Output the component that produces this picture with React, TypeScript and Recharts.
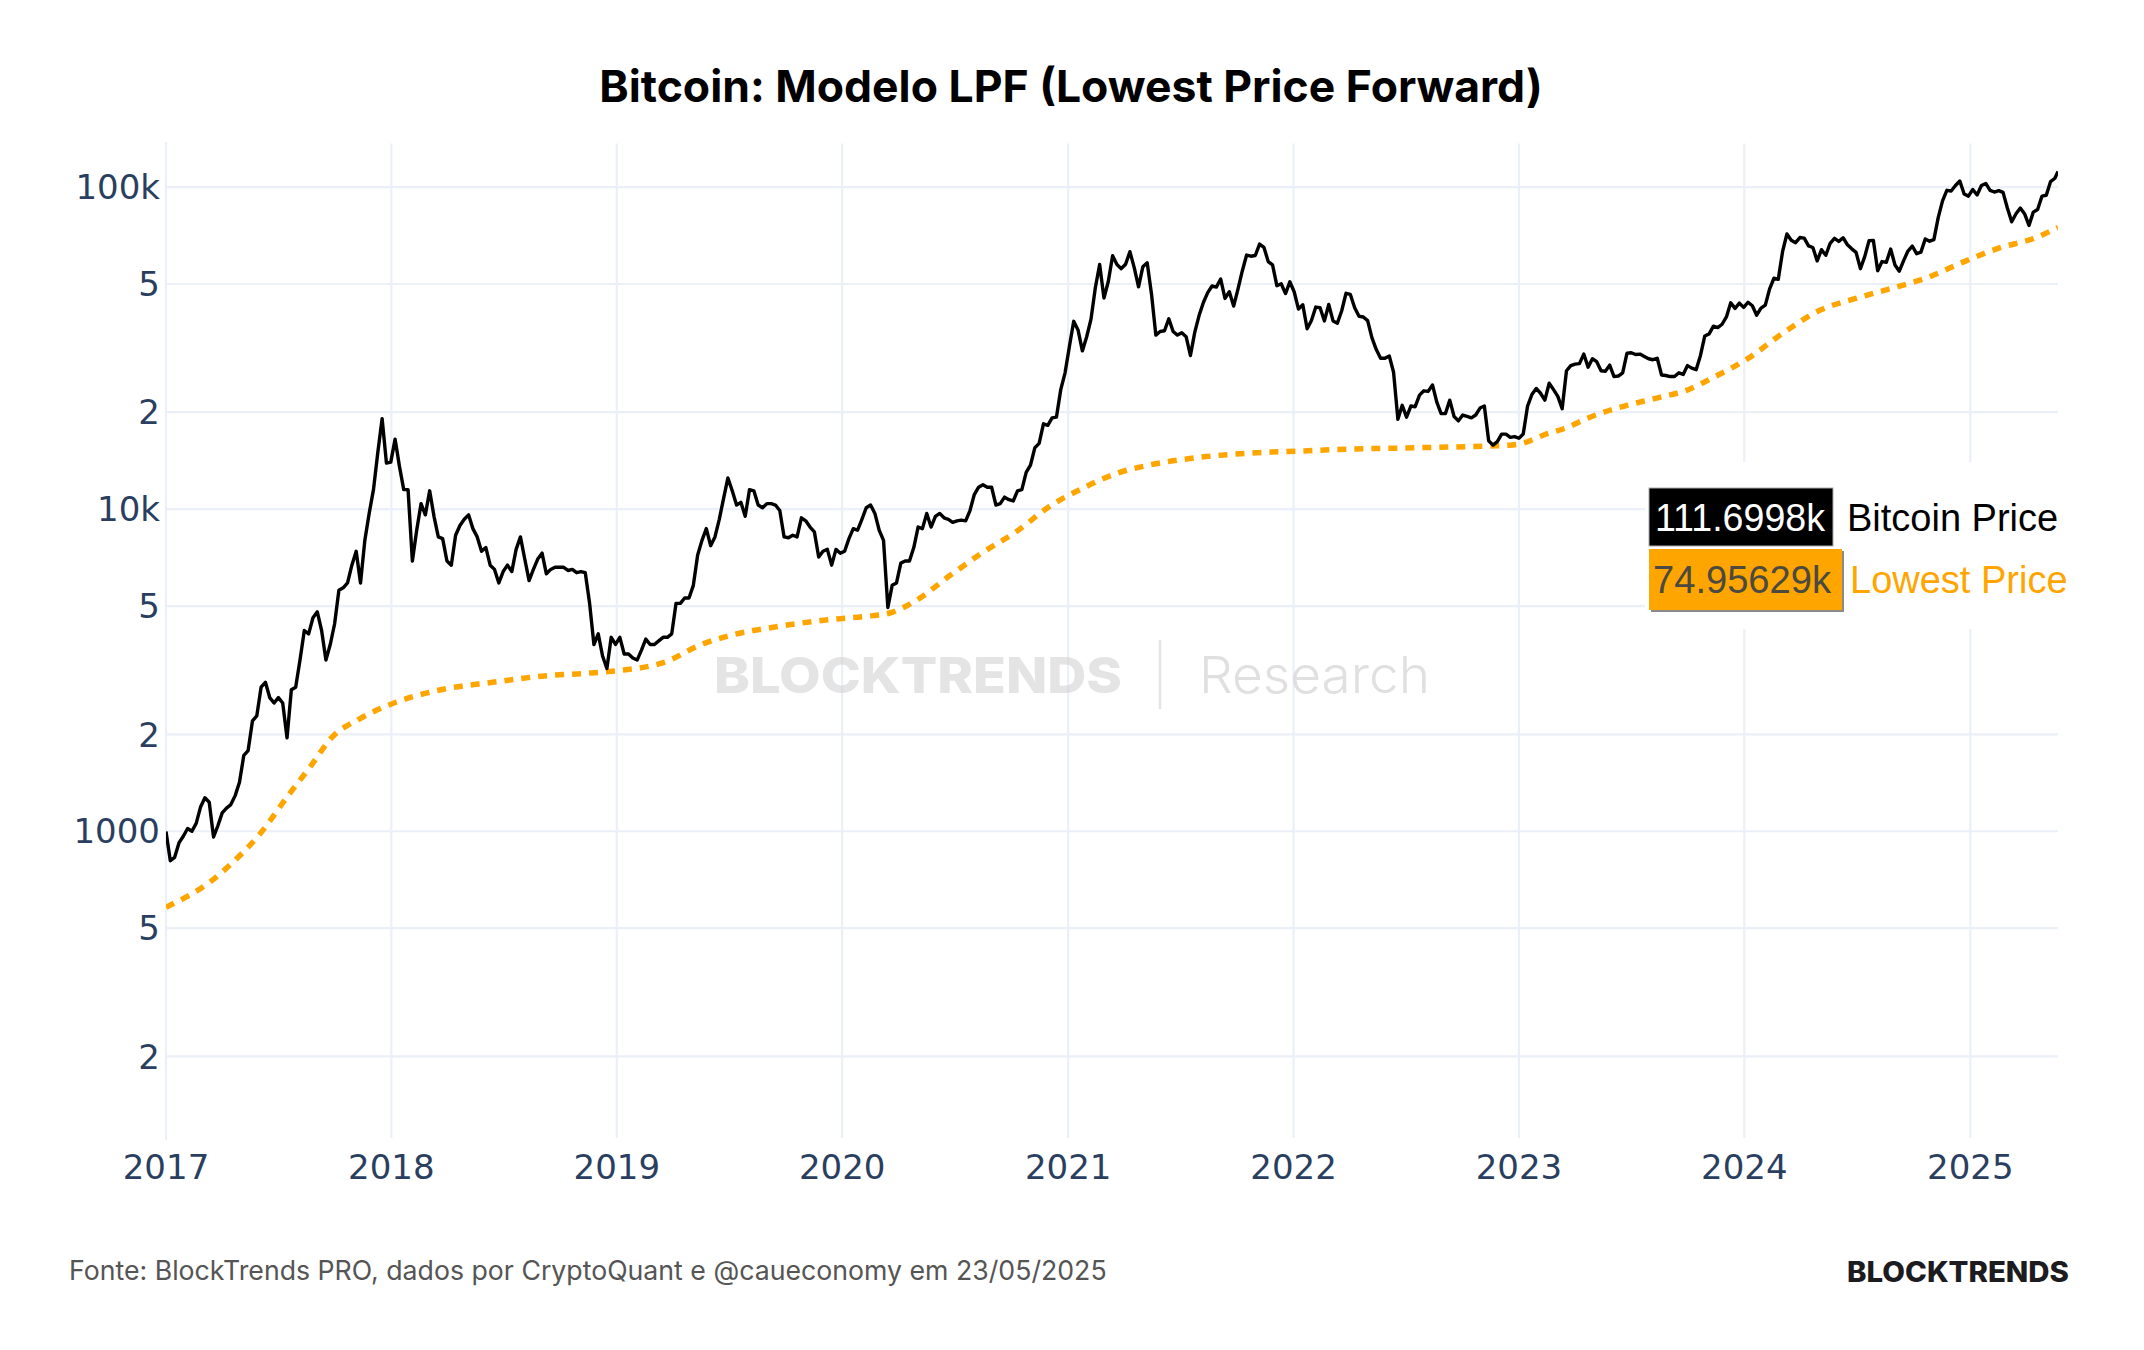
import React from 'react';
import { LineChart, Line, XAxis, YAxis, ReferenceLine } from 'recharts';

// Weekly Bitcoin closes (USD); each year's list starts on the date in weekStarts
const price2017 = [998, 810, 830, 920, 965, 1020, 1000, 1060, 1190, 1270, 1230, 960, 1040, 1140, 1180, 1210, 1290, 1420, 1720, 1780, 2200, 2280, 2800, 2900, 2600, 2500, 2600, 2500, 1950, 2750, 2800, 3400, 4200, 4100, 4600, 4800, 4200, 3400, 3800, 4400, 5600, 5700, 5900, 6700, 7400, 5900, 8000, 9700, 11500, 15000, 19100, 13900, 14000];
const price2018 = [16500, 13600, 11500, 11500, 6900, 8600, 10400, 9600, 11400, 9500, 8200, 8100, 6900, 6700, 8300, 8900, 9300, 9600, 8700, 8200, 7400, 7600, 6700, 6500, 5900, 6400, 6700, 6400, 7500, 8200, 7000, 6000, 6500, 7000, 7300, 6300, 6500, 6600, 6600, 6600, 6450, 6500, 6350, 6400, 6350, 5100, 3800, 4100, 3500, 3200, 4000, 3800];
const price2019 = [4000, 3550, 3550, 3450, 3400, 3650, 3950, 3800, 3800, 3900, 4000, 4000, 4100, 5100, 5100, 5300, 5300, 5800, 7200, 8000, 8700, 7700, 8200, 9300, 10800, 12500, 11400, 10300, 10500, 9500, 11500, 11400, 10300, 10100, 10400, 10400, 10300, 9900, 8200, 8150, 8300, 8200, 9400, 9200, 8800, 8500, 7100, 7400, 7500, 6700, 7500, 7300];
const price2020 = [7400, 8100, 8700, 8600, 9300, 10100, 10300, 9700, 8600, 8000, 4950, 5800, 5900, 6800, 6900, 6900, 7600, 8800, 8700, 9700, 8800, 9500, 9700, 9400, 9300, 9100, 9200, 9250, 9200, 9900, 11100, 11700, 11900, 11700, 11700, 10300, 10400, 10900, 10700, 10600, 11400, 11500, 13000, 13700, 15500, 16000, 18400, 18200, 19200, 19300, 23500, 26500];
const price2021 = [32000, 38300, 36000, 31000, 34300, 38900, 48700, 57500, 45200, 50900, 61200, 57500, 55800, 57600, 63000, 56200, 49000, 56600, 58200, 46500, 34700, 35600, 35800, 39000, 35600, 34700, 35300, 34300, 30000, 35400, 39900, 43800, 47000, 49300, 48900, 51800, 45100, 47300, 42700, 48200, 54900, 61500, 61000, 61300, 66500, 65000, 58700, 57300, 49400, 50100, 46700, 50800];
const price2022 = [47300, 41800, 43100, 36300, 38500, 42400, 42200, 38400, 43200, 38400, 37800, 41300, 46800, 46400, 42200, 39700, 39500, 38500, 34000, 31300, 29400, 29400, 29900, 26600, 19000, 21000, 19300, 20900, 20800, 22600, 23300, 23200, 24300, 21500, 19800, 19800, 21800, 19400, 18800, 19600, 19400, 19200, 19600, 20600, 20900, 16300, 15800, 16200, 17100, 17100, 16700, 16800];
const price2023 = [16600, 17100, 20900, 22700, 23700, 22900, 21800, 24600, 23500, 22400, 20500, 26900, 27900, 28200, 28300, 30300, 27600, 29300, 28700, 26900, 26800, 28000, 25800, 25900, 26500, 30500, 30600, 30200, 30300, 29800, 29300, 29100, 29400, 26100, 26000, 25800, 25800, 26500, 26200, 27900, 27400, 27100, 30000, 34500, 35000, 37000, 36600, 37500, 39500, 43700, 42000, 43600, 42300];
const price2024 = [43900, 42800, 40000, 42100, 43000, 48300, 52100, 51700, 63100, 71500, 68400, 67200, 69700, 69400, 65700, 64900, 59000, 63900, 61400, 66900, 69300, 67800, 69600, 66200, 64300, 62700, 55800, 60800, 68200, 68300, 55000, 58700, 58400, 64200, 57300, 54800, 59100, 63300, 65600, 62100, 62800, 69000, 67900, 68700, 80400, 90600, 97700, 97200, 101100, 104400, 95100, 93700];
const price2025 = [98300, 94500, 101100, 102600, 97700, 96500, 97500, 96300, 86100, 78000, 82600, 86100, 82500, 76000, 83600, 85200, 93700, 94300, 104000, 106500];
const weekStarts = ['2017-01-01', '2018-01-07', '2019-01-06', '2020-01-05', '2021-01-03', '2022-01-02', '2023-01-01', '2024-01-07', '2025-01-05'];
const lastDate = '2025-05-23';
const lastPrice = 111699.8;

// Lowest Price Forward model curve
const lpfDates = ['2017-01-01', '2017-03-15', '2017-04-22', '2017-06-01', '2017-07-19', '2017-08-22', '2017-09-27', '2017-11-10', '2018-01-05', '2018-03-26', '2018-06-14', '2018-09-01', '2018-11-20', '2019-01-15', '2019-02-06', '2019-03-20', '2019-05-15', '2019-07-05', '2019-09-02', '2019-10-23', '2019-12-16', '2020-02-10', '2020-03-18', '2020-04-30', '2020-06-24', '2020-08-14', '2020-10-08', '2020-12-02', '2021-01-26', '2021-03-22', '2021-05-12', '2021-08-04', '2021-10-23', '2022-01-12', '2022-04-02', '2022-06-21', '2022-09-09', '2022-11-17', '2022-12-17', '2023-01-08', '2023-02-10', '2023-03-18', '2023-04-23', '2023-06-21', '2023-08-18', '2023-10-01', '2023-11-10', '2024-01-08', '2024-03-06', '2024-05-03', '2024-07-01', '2024-08-28', '2024-10-26', '2024-12-20', '2025-02-17', '2025-04-16', '2025-05-23'];
const lpfValues = [581, 700, 810, 975, 1300, 1580, 1960, 2230, 2500, 2760, 2900, 3030, 3100, 3170, 3210, 3350, 3780, 4060, 4270, 4420, 4550, 4650, 4760, 5210, 6230, 7300, 8490, 10200, 11650, 12940, 13700, 14500, 14930, 15150, 15360, 15470, 15590, 15700, 15800, 16040, 16990, 17860, 19190, 20900, 22270, 23440, 25530, 29450, 35480, 41490, 45190, 48560, 52540, 58460, 64690, 69510, 74956.29];

const yTicks = [200, 500, 1000, 2000, 5000, 10000, 20000, 50000, 100000];
const yTickLabels = ['2', '5', '1000', '2', '5', '10k', '2', '5', '100k'];
const xTickYears = [2017, 2018, 2019, 2020, 2021, 2022, 2023, 2024, 2025];

const DAY = 86400000;
const toTime = (d: string) => Date.parse(d + 'T00:00:00Z');

const priceYears = [price2017, price2018, price2019, price2020, price2021, price2022, price2023, price2024, price2025];
const priceData = priceYears
  .flatMap((vals, k) => vals.map((v, i) => ({ t: toTime(weekStarts[k]) + i * 7 * DAY, v })))
  .concat([{ t: toTime(lastDate), v: lastPrice }]);
const lpfData = lpfDates.map((d, i) => ({ t: toTime(d), v: lpfValues[i] }));
const xTicks = xTickYears.map((y) => toTime(`${y}-01-01`));

const TICK_COLOR = '#2a3f5f';
const GRID = '#EBF0F8';

const YTick = (props: any) => {
  const { x, y, payload } = props;
  const idx = yTicks.indexOf(payload.value);
  return (
    <text x={x} y={y} dy="0.36em" textAnchor="end" fill={TICK_COLOR} fontSize={34} fontFamily="DejaVu Sans">
      {yTickLabels[idx]}
    </text>
  );
};

const XTick = (props: any) => {
  const { x, y, payload } = props;
  const year = new Date(payload.value).getUTCFullYear();
  return (
    <text x={x} y={y + 27} dy="0.36em" textAnchor="middle" fill={TICK_COLOR} fontSize={34} fontFamily="DejaVu Sans">
      {year}
    </text>
  );
};

export default function App() {
  const W = 2144;
  const H = 1350;
  return (
    <div style={{ position: 'absolute', left: 0, top: 0, width: W, height: H, background: '#ffffff', overflow: 'hidden' }}>
      <LineChart width={W} height={H} margin={{ top: 142, right: 86, bottom: 150, left: 46 }}>
        <XAxis
          type="number"
          dataKey="t"
          domain={[toTime('2017-01-01'), toTime(lastDate)]}
          allowDataOverflow
          ticks={xTicks}
          interval={0}
          axisLine={false}
          tickLine={false}
          tickSize={0}
          tickMargin={0}
          height={60}
          tick={(p: any) => <XTick {...p} />}
        />
        <YAxis
          type="number"
          scale="log"
          domain={[110, 138000]}
          allowDataOverflow
          ticks={yTicks}
          interval={0}
          axisLine={false}
          tickLine={false}
          tickSize={0}
          tickMargin={6}
          width={120}
          tick={(p: any) => <YTick {...p} />}
        />
        {yTicks.map((v) => (
          <ReferenceLine key={`h${v}`} y={v} stroke={GRID} strokeWidth={2.2} />
        ))}
        {xTicks.map((t) => (
          <ReferenceLine key={`v${t}`} x={t} stroke={GRID} strokeWidth={2.2} />
        ))}
        <Line
          data={lpfData}
          dataKey="v"
          type="monotone"
          stroke="#FFA500"
          strokeWidth={5.5}
          strokeDasharray="9 8"
          dot={false}
          isAnimationActive={false}
        />
        <Line
          data={priceData}
          dataKey="v"
          type="linear"
          stroke="#000000"
          strokeWidth={3.4}
          strokeLinejoin="round"
          dot={false}
          isAnimationActive={false}
        />
      </LineChart>

      <svg width={W} height={H} style={{ position: 'absolute', left: 0, top: 0, pointerEvents: 'none' }}>
        {/* keep the plot area unframed */}
        <rect x={170} y={139} width={1886} height={4.5} fill="#ffffff" />
        <rect x={170} y={1138} width={1886} height={5} fill="#ffffff" />
        <rect x={2060} y={130} width={12} height={1020} fill="#ffffff" />

        <text x={1071} y={102} textAnchor="middle" fontFamily="Inter" fontWeight={700} fontSize={44.5} fill="#000">
          Bitcoin: Modelo LPF (Lowest Price Forward)
        </text>

        {/* watermark */}
        <g opacity={0.55}>
          <text x={714} y={693} fontFamily="Inter" fontWeight={800} fontSize={50} fill="#cfcfcf" textLength={408} lengthAdjust="spacingAndGlyphs">
            BLOCKTRENDS
          </text>
          <line x1={1160} y1={640} x2={1160} y2={709} stroke="#cfcfcf" strokeWidth={2.5} />
          <text x={1199} y={693} fontFamily="Inter" fontWeight={300} fontSize={51} fill="#c8c8c8" textLength={231} lengthAdjust="spacingAndGlyphs">
            Research
          </text>
        </g>

        {/* last-value labels */}
        <rect x={1645} y={462} width={499} height={167} fill="#ffffff" />
        <rect x={1649} y={488} width={184} height={58} fill="#000000" stroke="#aaaaaa" strokeWidth={1} />
        <text x={1655} y={531} fontFamily="Liberation Sans, Arial" fontSize={38} fill="#ffffff" textLength={170} lengthAdjust="spacingAndGlyphs">
          111.6998k
        </text>
        <text x={1847} y={531} fontFamily="Liberation Sans, Arial" fontSize={38} fill="#000000">
          Bitcoin Price
        </text>
        <rect x={1651} y={551} width={193} height={61} fill="#8a8a8a" />
        <rect x={1649} y={549} width={193} height={61} fill="#FFA500" />
        <text x={1653} y={593} fontFamily="Liberation Sans, Arial" fontSize={38} fill="#4a4a40" textLength={178} lengthAdjust="spacingAndGlyphs">
          74.95629k
        </text>
        <text x={1850} y={593} fontFamily="Liberation Sans, Arial" fontSize={38} fill="#FFA500">
          Lowest Price
        </text>

        {/* footer */}
        <text x={69} y={1280} fontFamily="Inter" fontWeight={400} fontSize={26.7} fill="#555555">
          Fonte: BlockTrends PRO, dados por CryptoQuant e @caueconomy em 23/05/2025
        </text>
        <text x={1847} y={1282} fontFamily="Inter" fontWeight={800} fontSize={28} fill="#1b1b20" textLength={222} lengthAdjust="spacingAndGlyphs">
          BLOCKTRENDS
        </text>
      </svg>
    </div>
  );
}
